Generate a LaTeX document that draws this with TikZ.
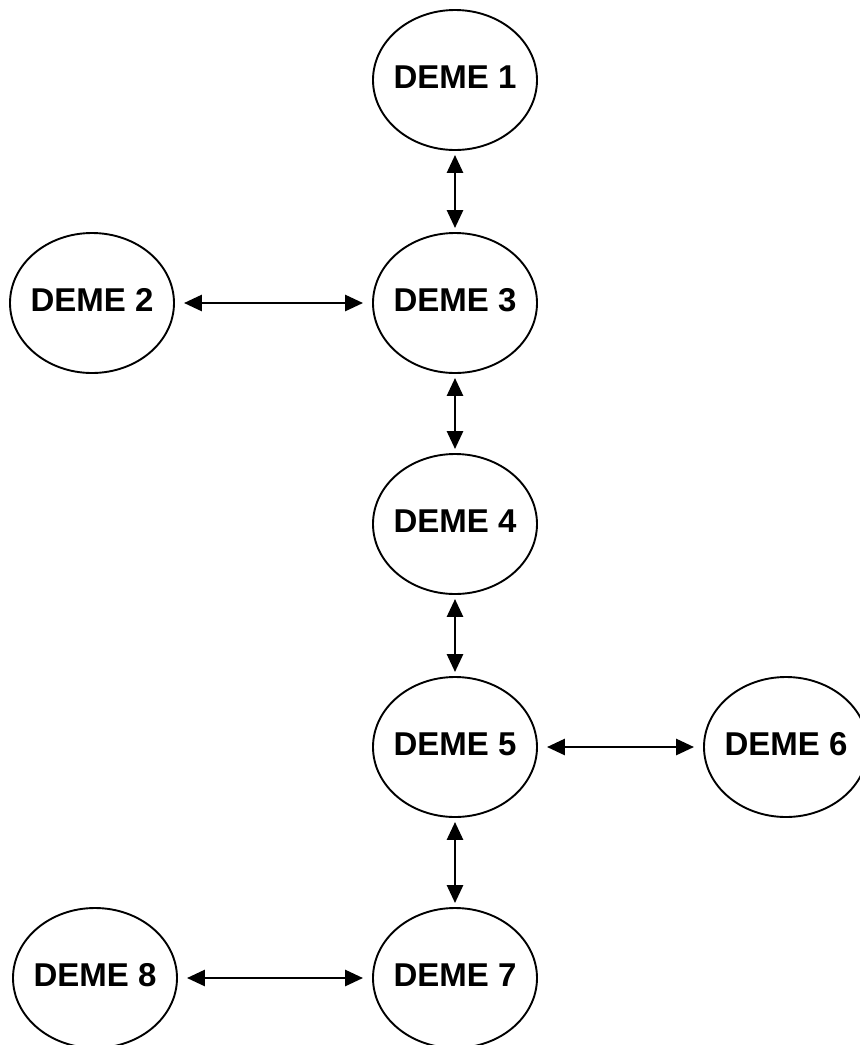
\documentclass[tikz,border=0pt]{standalone}
\usepackage{fontspec}
\setmainfont{Liberation Sans}
\usetikzlibrary{shapes.geometric,arrows.meta}

\tikzset{
  deme/.style = {draw, ellipse, line width=1.9pt, minimum width=164pt,
                 minimum height=140pt, inner xsep=-8pt, inner ysep=0pt,
                 text depth=6pt, font=\bfseries\fontsize{33}{38}\selectfont},
  link/.style = {{Triangle[length=18pt,width=16pt]}-{Triangle[length=18pt,width=16pt]},
                 line width=2.8pt, shorten <=4pt, shorten >=4pt},
  side/.style = {shorten <=9pt, shorten >=9pt}
}

\begin{document}
\begin{tikzpicture}[x=1pt,y=-1pt]
\useasboundingbox (0,0) rectangle (860,1045);
%
\node[deme](d1) at (455,80) {DEME 1};
\node[deme](d2) at (92,303) {DEME 2};
\node[deme](d3) at (455,303) {DEME 3};
\node[deme](d4) at (455,524) {DEME 4};
\node[deme](d5) at (455,747) {DEME 5};
\node[deme](d6) at (786,747) {DEME 6};
\node[deme](d7) at (455,978) {DEME 7};
\node[deme](d8) at (95,978) {DEME 8};
%
\draw[link](d1)--(d3);
\draw[link](d3)--(d4);
\draw[link](d4)--(d5);
\draw[link](d5)--(d7);
\draw[link,side](d2)--(d3);
\draw[link,side](d5)--(d6);
\draw[link,side](d8)--(d7);
\end{tikzpicture}
\end{document}
